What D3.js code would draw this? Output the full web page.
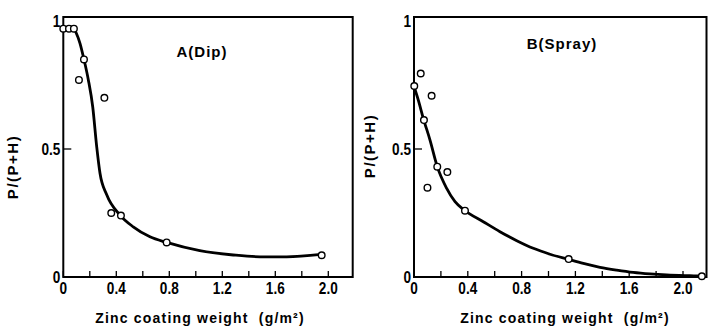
<!DOCTYPE html>
<html>
<head>
<meta charset="utf-8">
<script src="https://d3js.org/d3.v7.min.js"></script>
<style>
  body { margin: 0; background: #fff; }
  text { font-family: "Liberation Sans", Arial, sans-serif; font-weight: bold; fill: #000; }
</style>
</head>
<body>
<div id="cont"></div>
<script>
// x tick labels and y tick labels
var xTicks = [0, 0.4, 0.8, 1.2, 1.6, 2.0];
var xMinor = [0, 0.2, 0.4, 0.6, 0.8, 1.0, 1.2, 1.4, 1.6, 1.8, 2.0];
var yTicks = [0, 0.5, 1];

// A (Dip) measured points
var dipX = [0, 0.043, 0.08, 0.118, 0.156, 0.31, 0.362, 0.435, 0.78, 1.95];
var dipY = [0.97, 0.97, 0.97, 0.77, 0.85, 0.70, 0.25, 0.24, 0.135, 0.085];
// A (Dip) fitted curve
var dipCurveX = [0.088, 0.126, 0.156, 0.189, 0.222, 0.252, 0.277, 0.327, 0.428, 0.528, 0.654, 0.78, 1.03, 1.283, 1.485, 1.686, 1.945];
var dipCurveY = [0.965, 0.913, 0.85, 0.77, 0.665, 0.509, 0.405, 0.322, 0.242, 0.196, 0.157, 0.135, 0.103, 0.086, 0.079, 0.079, 0.088];

// B (Spray) measured points
var sprayX = [0.002, 0.05, 0.074, 0.131, 0.1, 0.173, 0.248, 0.379, 1.15, 2.14];
var sprayY = [0.746, 0.795, 0.613, 0.708, 0.349, 0.431, 0.41, 0.259, 0.07, 0.003];
// B (Spray) fitted curve
var sprayCurveX = [0.002, 0.032, 0.069, 0.119, 0.173, 0.243, 0.305, 0.379, 0.515, 0.639, 0.764, 0.887, 1.011, 1.147, 1.259, 1.383, 1.507, 1.63, 1.755, 1.879, 2.05, 2.12];
var sprayCurveY = [0.741, 0.691, 0.62, 0.535, 0.431, 0.346, 0.294, 0.259, 0.216, 0.177, 0.142, 0.112, 0.089, 0.069, 0.053, 0.038, 0.027, 0.018, 0.012, 0.008, 0.005, 0.004];

var svg = d3.select("#cont").append("svg")
    .attr("width", 711)
    .attr("height", 330);

function zip(xs, ys) {
    return xs.map(function(x, i) { return [x, ys[i]]; });
}

var drawPanel = function(p) {
    var x = d3.scaleLinear().domain([0, p.xmax]).range([p.left, p.right]);
    var y = d3.scaleLinear().domain([0, 1]).range([277, 21]);
    var g = svg.append("g");

    // frame
    g.append("rect")
        .attr("x", p.left).attr("y", 17)
        .attr("width", p.right - p.left).attr("height", 277 - 17)
        .attr("fill", "none").attr("stroke", "#000").attr("stroke-width", 2);

    // x ticks (inward)
    g.selectAll(".xt").data(xMinor).enter().append("line")
        .attr("x1", function(d) { return x(d); }).attr("x2", function(d) { return x(d); })
        .attr("y1", 277).attr("y2", 271)
        .attr("stroke", "#000").attr("stroke-width", 1.3);
    g.selectAll(".xl").data(xTicks).enter().append("text")
        .attr("transform", function(d) { return "translate(" + x(d) + ",294) scale(0.8,1)"; })
        .attr("text-anchor", "middle")
        .style("font-size", "17px")
        .text(function(d) { return d === 0 ? "0" : d.toFixed(1); });

    // y ticks
    g.append("line")
        .attr("x1", p.left).attr("x2", p.left + 8)
        .attr("y1", y(0.5)).attr("y2", y(0.5))
        .attr("stroke", "#000").attr("stroke-width", 1.3);
    g.selectAll(".yl").data(yTicks).enter().append("text")
        .attr("transform", function(d) { return "translate(" + (p.left - 3) + "," + (y(d) + 6) + ") scale(0.8,1)"; })
        .attr("text-anchor", "end")
        .style("font-size", "17px")
        .text(function(d) { return d; });

    // labels
    g.append("text")
        .attr("x", p.xlab).attr("y", 323)
        .attr("text-anchor", "middle")
        .style("font-size", "14px").style("letter-spacing", "1.2px")
        .style("white-space", "pre")
        .text("Zinc coating weight  (g/m\u00b2)");
    g.append("text")
        .attr("transform", "translate(" + p.ylabX + "," + p.ylabY + ") rotate(-90)")
        .attr("text-anchor", "middle")
        .style("font-size", "15px").style("letter-spacing", "1.5px")
        .text("P/(P+H)");
    g.append("text")
        .attr("x", p.titleX).attr("y", p.titleY)
        .attr("text-anchor", "middle")
        .style("font-size", "15px").style("letter-spacing", "1px")
        .text(p.title);

    // curve
    var line = d3.line()
        .x(function(d) { return x(d[0]); })
        .y(function(d) { return y(d[1]); })
        .curve(d3.curveMonotoneX);
    g.append("path")
        .attr("d", line(zip(p.cx, p.cy)))
        .attr("fill", "none").attr("stroke", "#000").attr("stroke-width", 2.8);

    // points
    g.selectAll(".pt").data(zip(p.px, p.py)).enter().append("circle")
        .attr("cx", function(d) { return x(d[0]); })
        .attr("cy", function(d) { return y(d[1]); })
        .attr("r", 3.3)
        .attr("fill", "#fff").attr("stroke", "#000").attr("stroke-width", 1.4);
};

drawPanel({ left: 63.3, right: 352.7, xmax: (352.7 - 63.3) / 132.5,
    px: dipX, py: dipY, cx: dipCurveX, cy: dipCurveY,
    title: "A(Dip)", titleX: 202, titleY: 57, xlab: 200, ylabX: 18, ylabY: 167 });
drawPanel({ left: 414, right: 706.5, xmax: (706.5 - 414) / 134.5,
    px: sprayX, py: sprayY, cx: sprayCurveX, cy: sprayCurveY,
    title: "B(Spray)", titleX: 562, titleY: 49, xlab: 565, ylabX: 375, ylabY: 146 });
</script>
</body>
</html>
